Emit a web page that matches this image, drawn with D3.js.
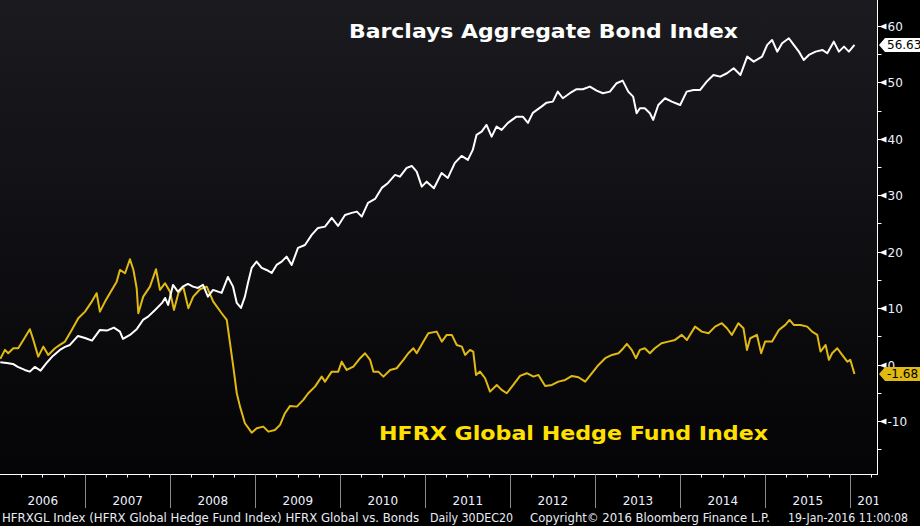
<!DOCTYPE html>
<html>
<head>
<meta charset="utf-8">
<script src="https://cdn.jsdelivr.net/npm/d3@7"></script>
<style>
  html, body { margin: 0; padding: 0; background: #000; }
  svg { display: block; }
  text { font-family: "DejaVu Sans", Verdana, sans-serif; }
</style>
</head>
<body>
<script>
// Barclays Aggregate Bond Index, % since start of 2006
var bondDates = [
  "2006-01-01","2006-01-28","2006-02-24","2006-03-17","2006-04-16","2006-05-08","2006-05-29","2006-06-23","2006-07-19","2006-08-15","2006-09-14","2006-10-06","2006-10-27","2006-12-01","2006-12-31",
  "2007-01-30","2007-03-05","2007-04-04","2007-05-04","2007-05-30","2007-06-12","2007-07-12","2007-08-11","2007-09-06","2007-09-28","2007-10-28","2007-11-27","2007-12-10","2007-12-23",
  "2008-01-13","2008-02-03","2008-02-24","2008-03-17","2008-04-08","2008-04-29","2008-05-21","2008-06-11","2008-07-03","2008-08-09","2008-09-05","2008-09-27","2008-10-13","2008-10-31","2008-11-17","2008-11-30","2008-12-16",
  "2009-01-06","2009-01-28","2009-02-18","2009-03-12","2009-04-02","2009-04-24","2009-05-15","2009-06-06","2009-07-03","2009-08-02","2009-08-31","2009-09-27","2009-10-27","2009-11-25","2009-12-22",
  "2010-01-21","2010-02-19","2010-03-13","2010-04-03","2010-04-30","2010-05-30","2010-06-28","2010-07-25","2010-08-24","2010-09-14","2010-10-13","2010-11-04","2010-11-25","2010-12-17",
  "2011-01-07","2011-02-07","2011-03-12","2011-04-08","2011-05-08","2011-06-06","2011-07-03","2011-07-24","2011-08-09","2011-08-31","2011-09-21","2011-10-13","2011-11-03","2011-11-25","2011-12-22",
  "2012-01-28","2012-02-24","2012-03-17","2012-04-07","2012-05-14","2012-06-05","2012-07-02","2012-07-23","2012-08-14","2012-09-13","2012-10-12","2012-11-08","2012-12-08",
  "2013-01-06","2013-02-02","2013-03-04","2013-04-02","2013-04-28","2013-05-22","2013-06-12","2013-06-27","2013-07-11","2013-08-01","2013-08-23","2013-09-06","2013-09-28","2013-10-27","2013-11-25","2013-12-31",
  "2014-01-28","2014-02-26","2014-03-27","2014-04-24","2014-05-23","2014-06-21","2014-07-20","2014-08-18","2014-09-16","2014-10-15","2014-11-12","2014-12-18",
  "2015-01-09","2015-01-30","2015-02-21","2015-03-14","2015-04-12","2015-05-03","2015-05-25","2015-06-15","2015-07-07","2015-08-05","2015-09-03","2015-09-24","2015-10-22","2015-11-13","2015-12-05","2015-12-26",
  "2016-01-19"
];
var bondValues = [
  0.4,0.28,0.11,-0.43,-0.96,-1.26,-0.43,-1.08,0.28,1.52,2.59,3.12,3.47,5.07,4.71,
  4.24,6.13,6.01,6.54,5.83,4.54,5.25,6.31,7.9,8.49,9.68,10.92,11.8,10.56,
  14.11,12.92,13.8,14.28,13.8,13.57,14.11,12.03,13.22,12.69,15.52,13.8,10.92,10.03,12.03,14.46,17.12,
  18.24,17.12,16.76,16.23,17.65,18.24,19.12,17.65,20.66,21.19,22.97,24.21,24.44,25.98,24.56,
  26.51,26.87,27.1,26.21,28.64,29.35,31.3,32.18,33.6,33.3,34.84,35.19,34.18,31.53,
  32.41,31.24,33.95,33.07,35.73,36.97,36.26,38.03,40.69,41.27,42.46,40.39,42.16,41.58,42.82,
  43.93,43.93,42.82,44.59,45.7,46.41,46.59,48.36,47.19,48.08,48.79,48.79,49.25,
  48.54,48.08,48.36,49.85,50.31,48.36,47.47,44.53,45.42,45.42,44.53,43.35,46.0,47.19,46.59,46.0,
  48.36,48.66,48.66,50.13,51.32,51.02,51.62,52.51,51.32,54.56,53.68,54.56,
  56.64,57.52,55.45,56.94,57.82,56.64,55.45,53.98,54.86,55.45,55.75,55.17,57.22,55.45,56.34,55.45,
  56.63
];

// HFRX Global Hedge Fund Index, % since start of 2006
var hedgeDates = [
  "2006-01-01","2006-01-21","2006-02-04","2006-02-26","2006-03-19","2006-04-10","2006-05-08","2006-05-23","2006-06-13","2006-07-05","2006-07-26","2006-08-24","2006-09-14","2006-10-06","2006-11-04","2006-12-02","2006-12-31",
  "2007-01-29","2007-02-19","2007-03-05","2007-03-27","2007-04-25","2007-05-16","2007-05-30","2007-06-21","2007-07-12","2007-07-27","2007-08-10","2007-08-17","2007-09-07","2007-10-06","2007-11-01","2007-11-18","2007-12-10","2007-12-31",
  "2008-01-17","2008-02-05","2008-02-26","2008-03-19","2008-04-09","2008-05-08","2008-06-06","2008-07-04","2008-08-09","2008-08-31","2008-09-14","2008-09-28","2008-10-13","2008-10-27","2008-11-17","2008-12-16",
  "2009-01-07","2009-02-04","2009-02-26","2009-03-26","2009-04-17","2009-05-08","2009-05-30","2009-06-28","2009-07-26","2009-08-16","2009-09-14","2009-10-13","2009-10-27","2009-11-25","2009-12-23",
  "2010-01-07","2010-01-28","2010-02-26","2010-03-27","2010-04-17","2010-05-09","2010-05-23","2010-06-13","2010-07-05","2010-08-03","2010-08-31","2010-09-29","2010-10-20","2010-11-11","2010-11-25","2010-12-24",
  "2011-01-14","2011-02-19","2011-03-13","2011-04-03","2011-04-25","2011-05-16","2011-06-07","2011-06-21","2011-07-12","2011-07-26","2011-08-07","2011-08-24","2011-09-15","2011-10-06","2011-11-04","2011-11-25","2011-12-17",
  "2012-01-14","2012-02-12","2012-03-12","2012-04-10","2012-05-01","2012-05-30","2012-06-28","2012-07-26","2012-08-24","2012-09-22","2012-10-20","2012-11-18","2012-12-17",
  "2013-01-14","2013-02-12","2013-03-13","2013-04-10","2013-05-01","2013-05-16","2013-06-06","2013-06-24","2013-07-11","2013-08-01","2013-08-23","2013-09-13","2013-10-12","2013-11-10","2013-12-09",
  "2014-01-07","2014-01-29","2014-03-05","2014-04-03","2014-05-02","2014-05-30","2014-06-28","2014-07-20","2014-08-10","2014-09-07","2014-09-29","2014-10-14","2014-10-28","2014-11-26","2014-12-14","2014-12-31",
  "2015-01-30","2015-02-28","2015-03-28","2015-04-15","2015-05-03","2015-06-01","2015-06-30","2015-07-21","2015-08-12","2015-08-26","2015-09-17","2015-10-01","2015-10-15","2015-11-06","2015-11-27","2015-12-19",
  "2016-01-01","2016-01-19"
];
var hedgeValues = [
  1.0,2.59,2.0,2.89,2.89,4.36,6.26,4.36,1.4,3.17,1.7,2.89,3.47,4.06,6.13,8.2,9.37,
  11.15,12.64,9.37,11.15,13.22,14.69,16.76,16.18,18.66,16.76,13.52,9.09,12.03,13.8,16.89,13.22,14.41,12.92,
  9.68,12.64,13.8,9.98,12.03,13.34,13.8,11.15,9.09,7.9,3.77,-0.37,-5.09,-7.46,-10.4,-12.07,
  -11.29,-11.0,-11.89,-11.59,-10.7,-8.63,-7.34,-7.46,-6.27,-5.09,-3.92,-2.14,-3.03,-1.26,-1.26,
  0.51,-0.96,-0.37,1.12,2.0,0.82,-1.26,-1.26,-2.14,-0.96,-0.66,0.82,2.0,2.89,2.0,4.06,
  5.55,5.83,4.06,5.25,5.25,3.47,3.17,1.7,2.59,2.29,-1.84,-1.26,-2.43,-4.8,-3.62,-4.5,-5.09,
  -3.62,-2.02,-1.54,-2.14,-1.84,-3.79,-3.62,-3.03,-2.73,-2.02,-2.25,-3.03,-1.54,
  -0.07,1.12,1.7,2.0,2.89,3.65,2.59,1.12,2.59,2.89,2.0,2.89,3.77,4.06,4.36,
  5.25,4.36,6.72,5.83,5.55,6.72,7.32,6.43,5.25,7.32,6.43,2.59,4.66,5.25,2.0,4.06,
  4.06,6.13,7.02,7.9,7.02,7.02,6.72,5.83,5.25,2.29,3.47,0.82,2.0,2.89,1.7,0.51,
  0.82,-1.68
];

var yTicks = [-10, 0, 10, 20, 30, 40, 50, 60];
var yMinor = [-15, -5, 5, 15, 25, 35, 45, 55];
var yearLabels = ["2006","2007","2008","2009","2010","2011","2012","2013","2014","2015","2016"];
var bondTitle = "Barclays Aggregate Bond Index";
var hedgeTitle = "HFRX Global Hedge Fund Index";
var footerTexts = ["HFRXGL Index (HFRX Global Hedge Fund Index) HFRX Global vs. Bonds", "Daily 30DEC20",
                   "Copyright\u00A9 2016 Bloomberg Finance L.P.", "19-Jan-2016 11:00:08"];

var W = 920, H = 526;
var plotRight = 877.5, plotBottom = 474.5;
var parse = d3.timeParse("%Y-%m-%d");

var bond = bondDates.map(function(d, i) { return { date: parse(d), value: bondValues[i] }; });
var hedge = hedgeDates.map(function(d, i) { return { date: parse(d), value: hedgeValues[i] }; });

var x = d3.scaleTime()
    .domain([parse("2006-01-01"), parse("2016-01-01")])
    .range([0.3, 850.3]);

var y = d3.scaleLinear()
    .domain([-19.4, 64.6])
    .range([474, 0]);

var svg = d3.select("body").append("svg")
    .attr("width", W)
    .attr("height", H);

svg.append("rect").attr("width", W).attr("height", H).attr("fill", "#000");

var defs = svg.append("defs");
var grad = defs.append("linearGradient")
    .attr("id", "bg").attr("x1", 0).attr("y1", 0).attr("x2", 0).attr("y2", 1);
grad.append("stop").attr("offset", "0%").attr("stop-color", "#1b1b1f");
grad.append("stop").attr("offset", "100%").attr("stop-color", "#040407");

defs.append("clipPath").attr("id", "plotclip")
  .append("rect").attr("x", 0).attr("y", 0).attr("width", plotRight).attr("height", plotBottom);

defs.append("clipPath").attr("id", "axisclip")
  .append("rect").attr("x", 0).attr("y", plotBottom).attr("width", plotRight + 1).attr("height", 40);

// plot background
svg.append("rect")
    .attr("x", 0).attr("y", 0)
    .attr("width", plotRight).attr("height", plotBottom)
    .attr("fill", "url(#bg)");

// lines
var line = d3.line()
    .x(function(d) { return x(d.date); })
    .y(function(d) { return y(d.value); });

var lines = svg.append("g").attr("clip-path", "url(#plotclip)");

lines.append("path")
    .datum(hedge)
    .attr("fill", "none")
    .attr("stroke", "#e0b913")
    .attr("stroke-width", 2)
    .attr("stroke-linejoin", "round")
    .attr("d", line);

lines.append("path")
    .datum(bond)
    .attr("fill", "none")
    .attr("stroke", "#ffffff")
    .attr("stroke-width", 2)
    .attr("stroke-linejoin", "round")
    .attr("d", line);

// titles
svg.append("text")
    .attr("x", 349).attr("y", 38)
    .attr("fill", "#ffffff")
    .attr("font-size", 20).attr("font-weight", "bold")
    .attr("textLength", 389).attr("lengthAdjust", "spacingAndGlyphs")
    .text(bondTitle);

svg.append("text")
    .attr("x", 379).attr("y", 440)
    .attr("fill", "#ffe000")
    .attr("font-size", 20).attr("font-weight", "bold")
    .attr("textLength", 389).attr("lengthAdjust", "spacingAndGlyphs")
    .text(hedgeTitle);

// frame
svg.append("line")
    .attr("x1", plotRight).attr("x2", plotRight).attr("y1", 0).attr("y2", plotBottom)
    .attr("stroke", "#fff").attr("stroke-width", 1);
svg.append("line")
    .attr("x1", 0).attr("x2", plotRight + 0.5).attr("y1", plotBottom).attr("y2", plotBottom)
    .attr("stroke", "#fff").attr("stroke-width", 1);

// right axis
var yAxis = svg.append("g");

yAxis.selectAll(".minor")
    .data(yMinor)
    .enter().append("line")
    .attr("class", "minor")
    .attr("x1", plotRight).attr("x2", plotRight + 4)
    .attr("y1", function(d) { return Math.round(y(d)) + 0.5; })
    .attr("y2", function(d) { return Math.round(y(d)) + 0.5; })
    .attr("stroke", "#fff");

var major = yAxis.selectAll(".major")
    .data(yTicks)
    .enter().append("g")
    .attr("class", "major")
    .attr("transform", function(d) { return "translate(" + plotRight + "," + (Math.round(y(d)) + 0.5) + ")"; });

major.append("path")
    .attr("d", "M0,-0.5L3,-0.5L9,-3L9,3L3,0.5L0,0.5Z")
    .attr("fill", "#fff");

major.append("text")
    .attr("x", 10).attr("dy", "0.36em")
    .attr("fill", "#eef2ff")
    .attr("font-size", 12)
    .text(function(d) { return d; });

// last value tags
function valueTag(val, fill) {
  var yy = y(val);
  var g = svg.append("g").attr("transform", "translate(879," + yy + ")");
  g.append("path")
      .attr("d", "M0,0L6,-7L41,-7L41,7L6,7Z")
      .attr("fill", fill);
  g.append("text")
      .attr("x", 8).attr("dy", "0.36em")
      .attr("fill", "#000")
      .attr("font-size", 12)
      .text(val.toFixed(2));
}
valueTag(bondValues[bondValues.length - 1], "#ffffff");
valueTag(hedgeValues[hedgeValues.length - 1], "#e0b913");

// bottom axis: quarter ticks, year separators, year labels
var xAxis = svg.append("g");
var quarters = d3.timeMonth.every(3).range(parse("2006-01-01"), parse("2016-06-01"));

xAxis.selectAll(".qtick")
    .data(quarters.filter(function(d) { return d.getMonth() !== 0 && x(d) < plotRight; }))
    .enter().append("line")
    .attr("x1", function(d) { return Math.round(x(d)) + 0.5; })
    .attr("x2", function(d) { return Math.round(x(d)) + 0.5; })
    .attr("y1", plotBottom).attr("y2", plotBottom + 3)
    .attr("stroke", "#fff");

var yearStarts = yearLabels.map(function(d) { return parse(d + "-01-01"); });

xAxis.selectAll(".ysep")
    .data(yearStarts.slice(1))
    .enter().append("line")
    .attr("x1", function(d) { return Math.round(x(d)) + 0.5; })
    .attr("x2", function(d) { return Math.round(x(d)) + 0.5; })
    .attr("y1", plotBottom).attr("y2", 508)
    .attr("stroke", "#8a8a8a");

xAxis.append("g").attr("clip-path", "url(#axisclip)")
  .selectAll(".ylab")
    .data(yearStarts)
    .enter().append("text")
    .attr("x", function(d, i) {
      var x0 = x(d), x1 = x(d3.timeYear.offset(d, 1));
      return x1 > plotRight ? x0 + 7 : (x0 + x1) / 2;
    })
    .attr("y", 505)
    .attr("text-anchor", function(d) { return x(d3.timeYear.offset(d, 1)) > plotRight ? "start" : "middle"; })
    .attr("fill", "#eef2ff")
    .attr("font-size", 12)
    .text(function(d, i) { return yearLabels[i]; });

// footer
var footerPos = [[2, 417], [430, 83], [530, 240], [788, 120]];
svg.selectAll(".foot")
    .data(footerTexts)
    .enter().append("text")
    .attr("x", function(d, i) { return footerPos[i][0]; })
    .attr("y", 522)
    .attr("fill", "#e8ecf5")
    .attr("font-size", 12)
    .attr("textLength", function(d, i) { return footerPos[i][1]; })
    .attr("lengthAdjust", "spacingAndGlyphs")
    .text(function(d) { return d; });
</script>
</body>
</html>
